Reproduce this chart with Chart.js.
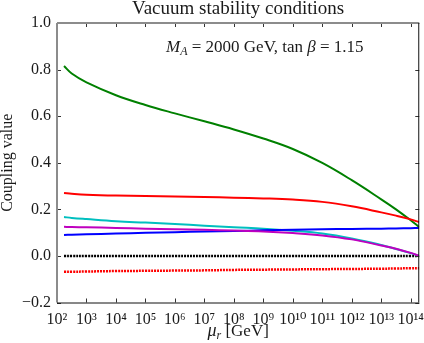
<!DOCTYPE html>
<html>
<head>
<meta charset="utf-8">
<script src="https://cdn.jsdelivr.net/npm/chart.js@4/dist/chart.umd.min.js"></script>
<style>
  html, body { margin: 0; padding: 0; background: #fff; }
  #wrap { width: 424px; height: 343px; }
</style>
</head>
<body>
<div id="wrap"><canvas id="chart"></canvas></div>
<script>
// renormalisation scale mu_r in GeV (starts at the top mass)
const MU = [173, 316, 1e3, 1e4, 1e5, 1e6, 1e7, 1e8, 1e9, 1e10, 1e11, 1e12, 1e13, 3.16e13, 1e14, 1.95e14];

const GREEN   = [0.815, 0.783, 0.745, 0.690, 0.648, 0.612, 0.578, 0.543, 0.504, 0.459, 0.399, 0.325, 0.243, 0.200, 0.153, 0.124];
const RED     = [0.270, 0.267, 0.263, 0.259, 0.257, 0.255, 0.253, 0.250, 0.247, 0.242, 0.232, 0.213, 0.187, 0.173, 0.157, 0.145];
const CYAN    = [0.167, 0.163, 0.158, 0.149, 0.143, 0.137, 0.130, 0.123, 0.117, 0.108, 0.096, 0.075, 0.047, 0.030, 0.012, 0.000];
const MAGENTA = [0.125, 0.124, 0.123, 0.120, 0.117, 0.114, 0.112, 0.109, 0.105, 0.098, 0.088, 0.071, 0.045, 0.031, 0.013, 0.000];
const BLUE    = [0.090, 0.091, 0.093, 0.096, 0.099, 0.102, 0.105, 0.107, 0.110, 0.112, 0.114, 0.116, 0.117, 0.118, 0.119, 0.120];
const ZERO    = [0, 0, 0, 0, 0, 0, 0, 0, 0, 0, 0, 0, 0, 0, 0, 0];
const RED_DOT = [-0.068, -0.068, -0.067, -0.065, -0.064, -0.063, -0.062, -0.060, -0.059, -0.058, -0.057, -0.056, -0.055, -0.054, -0.053, -0.053];

const X_EXPONENTS = [2, 3, 4, 5, 6, 7, 8, 9, 10, 11, 12, 13, 14];
const X_MIN = 100;
const X_MAX = 1.95e14;
const Y_MIN = -0.2;
const Y_MAX = 1.0;

const SERIF = '"Liberation Serif", "DejaVu Serif", serif';
const INK = '#1a1a1a';
const SUP = '⁰¹²³⁴⁵⁶⁷⁸⁹';

const toPoints = (vals) => MU.map((m, i) => ({ x: m, y: vals[i] }));
const sup = (n) => String(n).split('').map(d => SUP[+d]).join('');

function series(vals, color, dotted) {
    return {
        data: toPoints(vals),
        borderColor: color,
        borderWidth: dotted ? 2.5 : 2,
        borderDash: dotted ? [2, 1] : [],
        pointRadius: 0,
        fill: false,
        tension: 0.4,
    };
}

// frame, inward ticks, title and the math-style labels
const decor = {
    id: 'decor',
    afterDraw(chart) {
        const { ctx, chartArea: a, scales: { x, y } } = chart;
        const line = (x1, y1, x2, y2) => {
            ctx.beginPath(); ctx.moveTo(x1, y1); ctx.lineTo(x2, y2); ctx.stroke();
        };
        ctx.save();
        ctx.strokeStyle = '#333';
        ctx.lineWidth = 1;
        x.ticks.forEach(t => {
            const px = Math.round(x.getPixelForValue(t.value)) + 0.5;
            line(px, a.bottom, px, a.bottom - 4);
            line(px, a.top, px, a.top + 4);
        });
        y.ticks.forEach(t => {
            const py = Math.round(y.getPixelForValue(t.value)) + 0.5;
            line(a.left, py, a.left + 4, py);
            line(a.right, py, a.right - 4, py);
        });

        // spines
        ctx.strokeStyle = '#8c8c8c';
        ctx.lineWidth = 2;
        line(a.left, a.top, a.left, a.bottom);
        line(a.left, a.top, a.right, a.top);
        ctx.strokeStyle = '#111';
        ctx.lineWidth = 1;
        line(a.right - 0.5, a.top, a.right - 0.5, a.bottom);
        line(a.left, a.bottom + 0.5, a.right, a.bottom + 0.5);

        ctx.fillStyle = INK;
        ctx.textBaseline = 'alphabetic';
        const cx = (a.left + a.right) / 2;

        // title
        ctx.font = `19px ${SERIF}`;
        ctx.textAlign = 'center';
        ctx.fillText('Vacuum stability conditions', cx, 14);

        // annotation: M_A = 2000 GeV, tan beta = 1.15
        ctx.textAlign = 'left';
        let px = 166;
        const base = 52;
        const put = (txt, font, dy) => {
            ctx.font = font;
            ctx.fillText(txt, px, base + (dy || 0));
            px += ctx.measureText(txt).width;
        };
        put('M', `italic 17px ${SERIF}`);
        put('A', `italic 12px ${SERIF}`, 3);
        put(' = 2000 GeV, tan ', `17px ${SERIF}`);
        put('β', `italic 17px ${SERIF}`);
        put(' = 1.15', `17px ${SERIF}`);

        // x-axis title: mu_r [GeV]
        ctx.font = `italic 18px ${SERIF}`;
        const w1 = ctx.measureText('μ').width;
        ctx.font = `italic 12px ${SERIF}`;
        const w2 = ctx.measureText('r').width;
        ctx.font = `17px ${SERIF}`;
        const w3 = ctx.measureText(' [GeV]').width;
        px = cx - (w1 + w2 + w3) / 2;
        const xb = 336;
        ctx.font = `italic 18px ${SERIF}`;
        ctx.fillText('μ', px, xb); px += w1;
        ctx.font = `italic 12px ${SERIF}`;
        ctx.fillText('r', px, xb + 3); px += w2;
        ctx.font = `17px ${SERIF}`;
        ctx.fillText(' [GeV]', px, xb);
        ctx.restore();
    },
};

new Chart(document.getElementById('chart'), {
    type: 'line',
    data: {
        datasets: [
            series(MAGENTA, 'rgb(191, 0, 191)'),
            series(BLUE, 'rgb(0, 0, 255)'),
            series(CYAN, 'rgb(0, 191, 191)'),
            series(RED, 'rgb(255, 0, 0)'),
            series(GREEN, 'rgb(0, 128, 0)'),
            series(ZERO, 'rgb(0, 0, 0)', true),
            series(RED_DOT, 'rgb(255, 0, 0)', true),
        ],
    },
    options: {
        responsive: true,
        maintainAspectRatio: false,
        animation: false,
        layout: { padding: { top: 23, right: 4.5, left: 0, bottom: 0 } },
        scales: {
            x: {
                type: 'logarithmic',
                min: X_MIN,
                max: X_MAX,
                grid: { display: false },
                border: { display: false },
                afterBuildTicks: (scale) => {
                    scale.ticks = X_EXPONENTS.map(e => ({ value: Math.pow(10, e) }));
                },
                afterFit: (scale) => { scale.height = 40.5; },
                ticks: {
                    autoSkip: false,
                    maxRotation: 0,
                    padding: 0,
                    color: INK,
                    font: { family: SERIF, size: 16 },
                    callback: (v) => '10' + sup(Math.round(Math.log10(v))),
                },
            },
            y: {
                min: Y_MIN,
                max: Y_MAX,
                grid: { display: false, drawTicks: false },
                border: { display: false },
                afterFit: (scale) => { scale.width = 57; },
                title: {
                    display: true,
                    text: 'Coupling value',
                    color: INK,
                    padding: 0,
                    font: { family: SERIF, size: 16, lineHeight: 1 },
                },
                ticks: {
                    stepSize: 0.2,
                    padding: 6,
                    color: INK,
                    font: { family: SERIF, size: 16 },
                    callback: (v) => Math.abs(v) < 1e-9 ? '0.0' : v.toFixed(1).replace('-', '−'),
                },
            },
        },
        plugins: {
            legend: { display: false },
            title: { display: false },
            tooltip: { enabled: false },
        },
    },
    plugins: [decor],
});
</script>
</body>
</html>
